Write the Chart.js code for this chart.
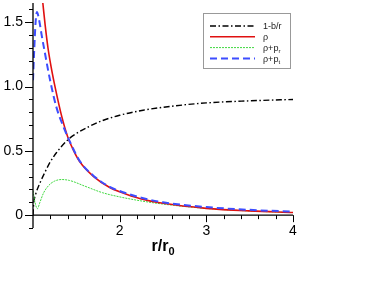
<!DOCTYPE html>
<html>
<head>
<meta charset="utf-8">
<script src="https://cdn.jsdelivr.net/npm/chart.js@4/dist/chart.umd.min.js"></script>
<style>
  html, body { margin: 0; padding: 0; background: #fff; }
  #wrap { position: relative; width: 374px; height: 291px; }
</style>
</head>
<body>
<div id="wrap"><canvas id="c"></canvas></div>
<script>
// values
const xTicks = [2, 3, 4];
const yTicks = [0, 0.5, 1, 1.5];

const shapeX = [1.0, 1.008, 1.03, 1.077, 1.135, 1.2, 1.27, 1.4, 1.5, 1.65, 1.8, 2.0, 2.27, 2.6, 3.0, 3.5, 4.0];
const shapeY = [0.0, 0.09, 0.16, 0.245, 0.33, 0.415, 0.485, 0.585, 0.635, 0.69, 0.735, 0.777, 0.816, 0.847, 0.873, 0.889, 0.90];

const rhoX = [1.10, 1.115, 1.14, 1.173, 1.21, 1.26, 1.327, 1.40, 1.47, 1.54, 1.7, 1.885, 2.0, 2.25, 2.5, 3.0, 3.5, 4.0];
const rhoY = [1.74, 1.64, 1.48, 1.30, 1.15, 0.98, 0.78, 0.61, 0.50, 0.415, 0.30, 0.215, 0.181, 0.125, 0.092, 0.053, 0.033, 0.021];

const radX = [1.0, 1.02, 1.05, 1.08, 1.12, 1.18, 1.25, 1.33, 1.42, 1.6, 1.8, 2.0, 2.3, 2.6, 3.0, 3.5, 4.0];
const radY = [0.19, 0.11, 0.05, 0.10, 0.17, 0.23, 0.265, 0.277, 0.27, 0.225, 0.175, 0.142, 0.105, 0.078, 0.052, 0.032, 0.02];

const tanX = [1.0, 1.015, 1.03, 1.045, 1.07, 1.10, 1.135, 1.2, 1.27, 1.35, 1.42, 1.54, 1.7, 1.885, 2.0, 2.25, 2.5, 3.0, 3.5, 4.0];
const tanY = [1.05, 1.30, 1.50, 1.58, 1.52, 1.40, 1.27, 1.04, 0.84, 0.69, 0.58, 0.42, 0.305, 0.22, 0.188, 0.135, 0.10, 0.063, 0.041, 0.027];

const pts = (xs, ys) => xs.map((x, i) => ({ x: x, y: ys[i] }));

// axis lines, minor/major ticks, axis title and the framed legend
const decor = {
    id: 'decor',
    afterDraw(chart) {
        const ctx = chart.ctx;
        const sx = chart.scales.x, sy = chart.scales.y;
        const x0 = sx.getPixelForValue(1), x1 = sx.getPixelForValue(4);
        const y0 = sy.getPixelForValue(0);
        const yb = sy.getPixelForValue(-0.1), yt = sy.getPixelForValue(1.65);
        ctx.save();
        ctx.strokeStyle = '#000';
        ctx.lineWidth = 1.3;
        ctx.beginPath();
        ctx.moveTo(x0, yb); ctx.lineTo(x0, yt);
        ctx.moveTo(x0, y0); ctx.lineTo(x1, y0);
        ctx.stroke();
        ctx.lineWidth = 1;
        ctx.beginPath();
        for (let v = -1; v <= 16; v++) {
            const p = Math.round(sy.getPixelForValue(v / 10)) + 0.5;
            const len = v % 5 === 0 ? 8 : 4;
            ctx.moveTo(x0, p); ctx.lineTo(x0 - len, p);
        }
        for (let v = 6; v <= 20; v++) {
            const p = Math.round(sx.getPixelForValue(v / 5)) + 0.5;
            const len = v % 5 === 0 ? 7 : 4;
            ctx.moveTo(p, y0); ctx.lineTo(p, y0 + len);
        }
        ctx.stroke();

        // axis title r/r0
        ctx.fillStyle = '#000';
        ctx.textBaseline = 'alphabetic';
        const main = 'r/r';
        ctx.font = 'bold 16px "Liberation Sans", Arial, sans-serif';
        const wMain = ctx.measureText(main).width;
        ctx.font = 'bold 11px "Liberation Sans", Arial, sans-serif';
        const wSub = ctx.measureText('0').width;
        const cx = (x0 + x1) / 2;
        const start = cx - (wMain + wSub) / 2;
        ctx.font = 'bold 16px "Liberation Sans", Arial, sans-serif';
        ctx.fillText(main, start, 251);
        ctx.font = 'bold 11px "Liberation Sans", Arial, sans-serif';
        ctx.fillText('0', start + wMain, 255);

        // legend
        const lx = 203.5, ly = 13.5, lw = 87, lh = 55;
        ctx.strokeStyle = '#999';
        ctx.lineWidth = 1;
        ctx.strokeRect(lx, ly, lw, lh);
        const rows = [
            { ds: 3, label: '1-b/r', sub: '' },
            { ds: 1, label: '\u03c1', sub: '' },
            { ds: 2, label: '\u03c1+p', sub: 'r' },
            { ds: 0, label: '\u03c1+p', sub: 't' }
        ];
        rows.forEach((r, i) => {
            const d = chart.data.datasets[r.ds];
            const yy = 26 + i * 10.8;
            ctx.save();
            ctx.strokeStyle = d.borderColor;
            ctx.lineWidth = d.borderWidth;
            ctx.setLineDash(d.borderDash || []);
            ctx.beginPath();
            ctx.moveTo(210, yy); ctx.lineTo(255, yy);
            ctx.stroke();
            ctx.restore();
            ctx.fillStyle = '#222';
            ctx.textBaseline = 'middle';
            ctx.font = '9px "Liberation Sans", Arial, sans-serif';
            ctx.fillText(r.label, 263, yy + 1);
            if (r.sub) {
                const w = ctx.measureText(r.label).width;
                ctx.font = '6px "Liberation Sans", Arial, sans-serif';
                ctx.fillText(r.sub, 263 + w, yy + 4);
            }
        });
        ctx.restore();
    }
};

new Chart(document.getElementById('c'), {
    type: 'line',
    data: {
        datasets: [
            { label: '\u03c1+p_t', data: pts(tanX, tanY), borderColor: '#3d4dff', borderWidth: 2, borderDash: [7, 4], order: 0 },
            { label: '\u03c1', data: pts(rhoX, rhoY), borderColor: '#e01010', borderWidth: 1.6, order: 1 },
            { label: '\u03c1+p_r', data: pts(radX, radY), borderColor: '#3fd83f', borderWidth: 1, borderDash: [2, 1], order: 2 },
            { label: '1-b/r', data: pts(shapeX, shapeY), borderColor: '#000', borderWidth: 1.4, borderDash: [6, 2.5, 1.5, 2.5], order: 3 }
        ]
    },
    options: {
        responsive: true,
        maintainAspectRatio: false,
        animation: false,
        layout: { padding: { top: 3, right: 81, bottom: 63, left: 0 } },
        elements: {
            point: { radius: 0 },
            line: { cubicInterpolationMode: 'monotone', fill: false }
        },
        scales: {
            x: {
                type: 'linear',
                min: 1,
                max: 4,
                position: { y: 0 },
                grid: { display: false, drawTicks: false },
                border: { display: false },
                afterBuildTicks: (s) => { s.ticks = xTicks.map(v => ({ value: v })); },
                afterFit: (s) => { s.paddingLeft = 0; s.paddingRight = 0; },
                ticks: {
                    color: '#000',
                    padding: 8,
                    maxRotation: 0,
                    font: { family: '"Liberation Sans", Arial, sans-serif', size: 14 }
                }
            },
            y: {
                type: 'linear',
                min: -0.1,
                max: 1.65,
                grid: { display: false, drawTicks: false },
                border: { display: false },
                afterBuildTicks: (s) => { s.ticks = yTicks.map(v => ({ value: v })); },
                afterFit: (s) => { s.width = 33; s.paddingTop = 0; s.paddingBottom = 0; },
                ticks: {
                    color: '#000',
                    padding: 10,
                    font: { family: '"Liberation Sans", Arial, sans-serif', size: 14 }
                }
            }
        },
        plugins: {
            legend: { display: false },
            tooltip: { enabled: false }
        }
    },
    plugins: [decor]
});
</script>
</body>
</html>
